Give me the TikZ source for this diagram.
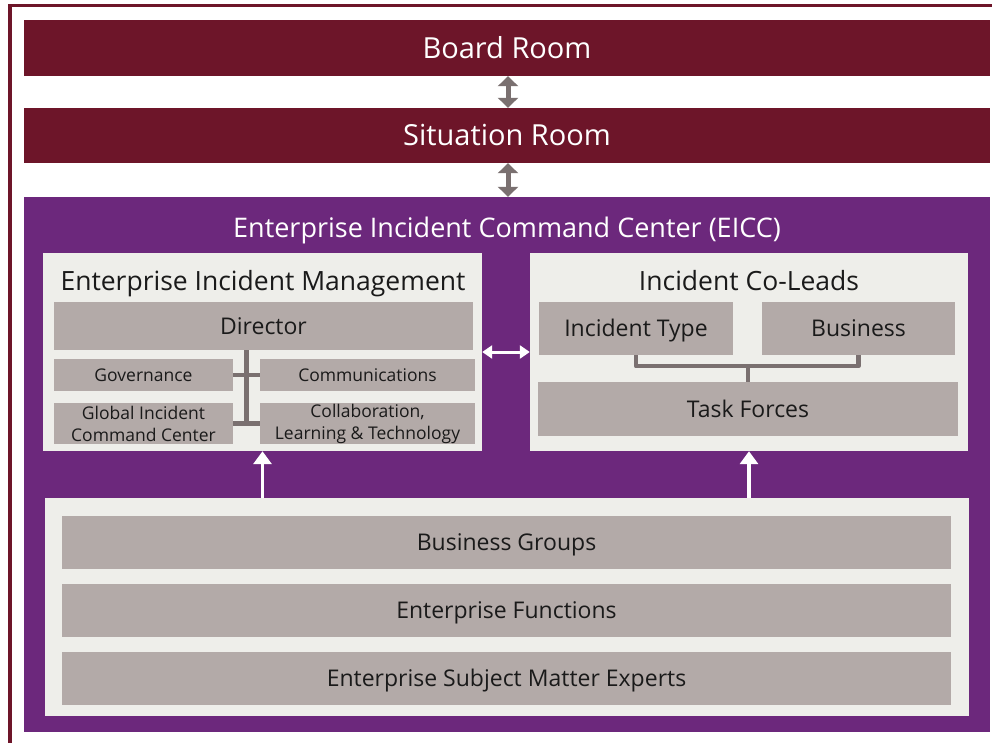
\documentclass[tikz,border=0pt]{standalone}
\usepackage{fontspec}
\setmainfont{Open Sans}
\usetikzlibrary{arrows.meta,calc}
\definecolor{maroon}{HTML}{6D1529}
\definecolor{eiccpurple}{HTML}{6C287C}
\definecolor{panel}{HTML}{EEEEEA}
\definecolor{gbox}{HTML}{B3AAA8}
\definecolor{connc}{HTML}{7A7070}
\definecolor{txt}{HTML}{1A1A1A}
\tikzset{
  band/.style={fill=maroon, text=white, inner sep=0pt, text height=26.5pt, text depth=5.8pt, font=\fontsize{29}{32}\selectfont},
  panelbox/.style={fill=panel, inner sep=0pt},
  graybox/.style={fill=gbox, text=txt, inner sep=0pt, align=center},
  bigtxt/.style={font=\fontsize{23}{26}\selectfont, text height=21.2pt, text depth=4.6pt},
  smalltxt/.style={font=\fontsize{17.5}{22}\selectfont, text height=16.1pt, text depth=3.5pt},
  twoline/.style={font=\fontsize{17.5}{22}\selectfont},
  ttl/.style={inner sep=0pt, text height=24.5pt, text depth=5.3pt},
  conn/.style={draw=connc, line width=4.5pt},
  garrow/.style={draw=connc, line width=5pt, {Triangle[width=20pt,length=10pt]}-{Triangle[width=20pt,length=10pt]}},
  warrow/.style={draw=white, line width=3pt, {Triangle[width=13pt,length=10pt]}-{Triangle[width=13pt,length=10pt]}},
  uparrow/.style={draw=white, line width=3.5pt, -{Triangle[width=18pt,length=13pt]}}
}
\begin{document}
\begin{tikzpicture}[x=1pt,y=-1pt]
\useasboundingbox (0,0) rectangle (992,742);
\fill[white] (0,0) rectangle (992,742);
% outer frame
\draw[maroon, line width=3.5pt] (10,760) -- (10,5.5) -- (1010,5.5);
% bands
\node[band, minimum width=966pt, minimum height=56pt] (board) at (507,48) {Board Room};
\node[band, minimum width=966pt, minimum height=55pt] (sit) at (507,135.5) {Situation Room};
% EICC
\node[fill=eiccpurple, inner sep=0pt, minimum width=966pt, minimum height=535pt] (eicc) at (507,464.5) {};
\node[ttl, text=white, font=\fontsize{27}{30}\selectfont] (eicct) at (507,228) {Enterprise Incident Command Center (EICC)};
% panels
\node[panelbox, minimum width=439pt, minimum height=198pt] (eim) at (262.5,352) {};
\node[ttl, text=txt, font=\fontsize{26.5}{29}\selectfont] (eimt) at (263,281) {Enterprise Incident Management};
\node[panelbox, minimum width=438pt, minimum height=198pt] (col) at (749,352) {};
\node[ttl, text=txt, font=\fontsize{26.5}{29}\selectfont] (colt) at (749,281) {Incident Co-Leads};
\node[panelbox, minimum width=924pt, minimum height=218pt] (bottom) at (507,607) {};
% EIM boxes
\node[graybox, bigtxt, minimum width=419pt, minimum height=48pt] (director) at (263.5,326) {Director};
\node[graybox, smalltxt, minimum width=179pt, minimum height=32pt] (gov) at (143.5,375) {Governance};
\node[graybox, smalltxt, minimum width=215pt, minimum height=32pt] (comm) at (367.5,375) {Communications};
\node[graybox, twoline, minimum width=179pt, minimum height=41pt] (gicc) at (143.5,423.5) {Global Incident\\Command Center};
\node[graybox, twoline, minimum width=215pt, minimum height=41pt] (clt) at (367.5,423.5) {Collaboration,\\Learning \& Technology};
% Co-leads boxes
\node[graybox, bigtxt, minimum width=194pt, minimum height=53pt] (itype) at (636,328.5) {Incident Type};
\node[graybox, bigtxt, minimum width=193pt, minimum height=53pt] (bus) at (858.5,328.5) {Business};
\node[graybox, bigtxt, minimum width=420pt, minimum height=54pt] (task) at (748,409) {Task Forces};
% bottom boxes
\node[graybox, bigtxt, minimum width=889pt, minimum height=53pt] (bg) at (506.5,542.5) {Business Groups};
\node[graybox, bigtxt, minimum width=889pt, minimum height=53pt] (ef) at (506.5,610.5) {Enterprise Functions};
\node[graybox, bigtxt, minimum width=889pt, minimum height=53pt] (esme) at (506.5,678.5) {Enterprise Subject Matter Experts};
% EIM connectors
\coordinate (m) at ($(gov.east)!.5!(comm.west)$);
\draw[conn] (director.south -| m) -- ($(m |- gicc.east)+(0,2)$);
\draw[conn] (gov.east) -- (comm.west);
\draw[conn] (gicc.east) -- (clt.west);
% Co-leads connectors
\coordinate (hb) at ($(itype.south)!.5!(bus.south)+(0,11)$);
\draw[conn, line join=round] (itype.south) -- (itype.south |- hb) -- (bus.south |- hb) -- (bus.south);
\draw[conn] (task.north) -- (task.north |- hb);
% arrows
\draw[garrow] (board.south -| 508,0) -- (sit.north -| 508,0);
\draw[garrow] (sit.south -| 508,0) -- (eicc.north -| 508,0);
\draw[warrow] (eim.east) -- (col.west);
\draw[uparrow] (bottom.north -| eim.south) -- (eim.south);
\draw[uparrow] (bottom.north -| col.south) -- (col.south);
\end{tikzpicture}
\end{document}
